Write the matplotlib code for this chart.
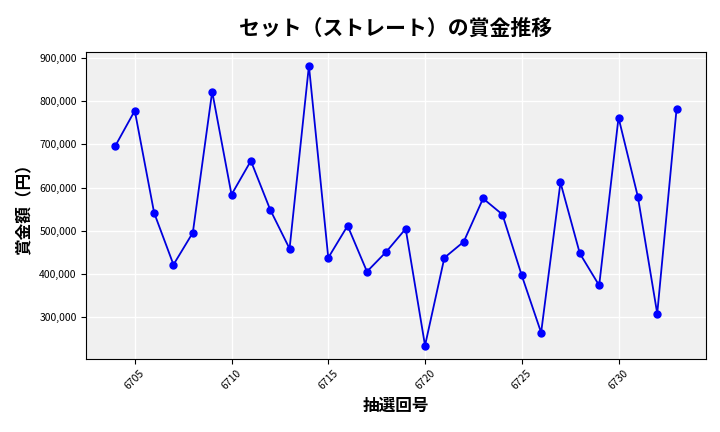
import matplotlib
matplotlib.use('Agg')
import matplotlib.pyplot as plt
from matplotlib.ticker import FuncFormatter

plt.rcParams['font.family'] = 'Noto Sans CJK JP'

draws = list(range(6704, 6734))
prizes = [697000, 778000, 542000, 422000, 496000, 822000, 584000, 662000, 549000, 459000,
          882000, 438000, 512000, 406000, 452000, 505000, 235000, 438000, 475000, 575000,
          538000, 397000, 265000, 612000, 448000, 374000, 762000, 579000, 309000, 782000]

fig, ax = plt.subplots(figsize=(7.2, 4.32), dpi=100)
fig.subplots_adjust(left=0.12, right=0.98, top=0.88, bottom=0.17)
ax.set_facecolor('#f0f0f0')
ax.grid(True, color='white', linewidth=1)
ax.set_axisbelow(True)

ax.plot(draws, prizes, color='#0000dd', linewidth=1.3, marker='o', markersize=5,
        markerfacecolor='blue', markeredgecolor='blue')

ax.set_title('セット（ストレート）の賞金推移', fontsize=15, fontweight='bold', pad=12)
ax.set_xlabel('抽選回号', fontsize=12, fontweight='bold')
ax.set_ylabel('賞金額（円）', fontsize=12, fontweight='bold')
ax.yaxis.set_major_formatter(FuncFormatter(lambda v, p: f'{int(v):,}'))
ax.set_xticks(range(6705, 6734, 5))
ax.tick_params(axis='x', labelrotation=45, labelsize=7.5)
ax.tick_params(axis='y', labelsize=7.5)
ax.set_xlim(6702.5, 6734.5)
ax.set_ylim(205000, 914000)

fig.savefig('out.png', dpi=100)
